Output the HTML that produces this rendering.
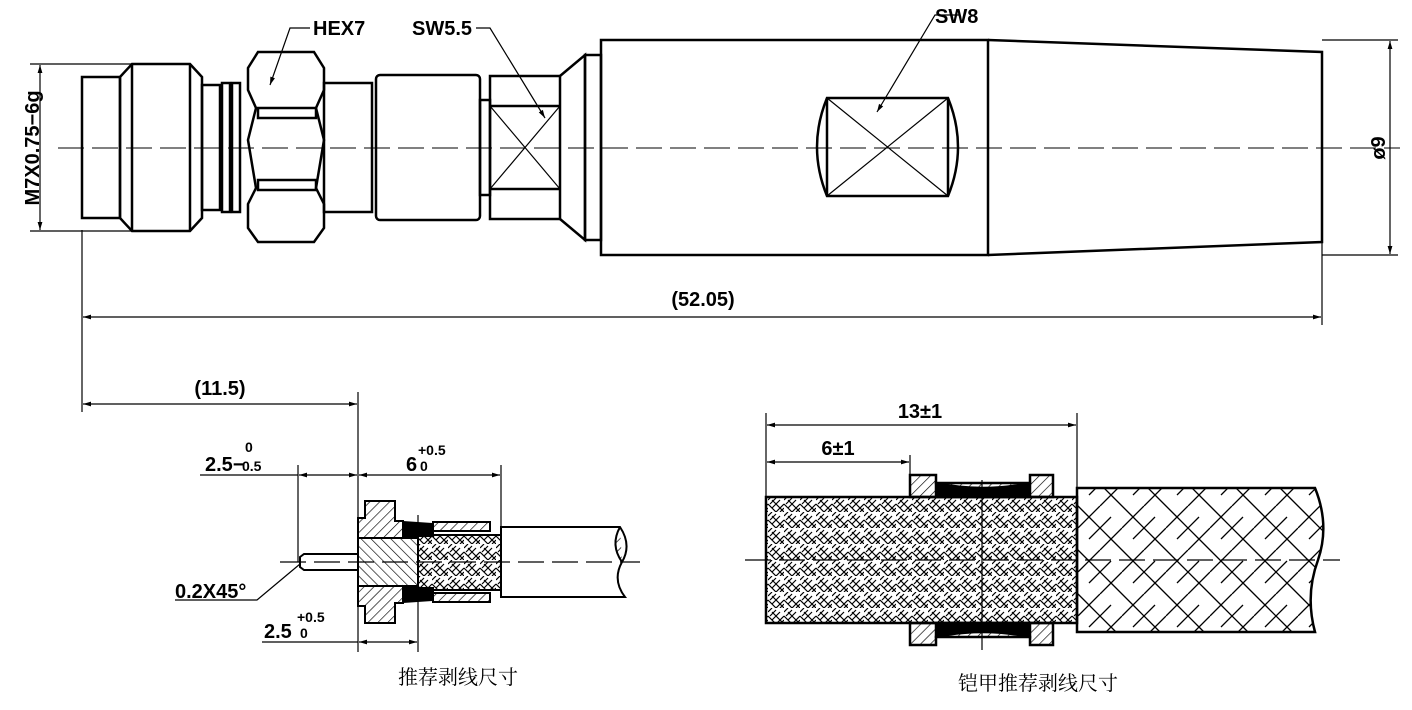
<!DOCTYPE html>
<html><head><meta charset="utf-8"><style>
html,body{margin:0;padding:0;background:#fff;}
svg{display:block}
text{font-family:"Liberation Sans","Noto Sans CJK SC",sans-serif;fill:#000}
.b{font-weight:bold}
</style></head><body>
<svg width="1412" height="710" viewBox="0 0 1412 710" xmlns="http://www.w3.org/2000/svg">
<defs>
<pattern id="h1" width="7" height="7" patternUnits="userSpaceOnUse" patternTransform="rotate(45)"><line x1="0" y1="0" x2="0" y2="7" stroke="#000" stroke-width="1.3"/></pattern>
<pattern id="h2" width="7" height="7" patternUnits="userSpaceOnUse" patternTransform="rotate(-45)"><line x1="0" y1="0" x2="0" y2="7" stroke="#000" stroke-width="1.3"/></pattern>
<pattern id="bs" width="16" height="16" patternUnits="userSpaceOnUse">
<path d="M0 4 L4 0 M2 8 L8 2 M4 12 L12 4 M8 16 L16 8 M12 16 L16 12 M8 8 L16 16 M0 8 L8 16 M4 4 L8 8" stroke="#000" stroke-width="1.2" fill="none"/></pattern>
<pattern id="bb" width="44" height="44" patternUnits="userSpaceOnUse">
<path d="M0 22 L22 0 M22 44 L44 22 M11 11 L33 33 M33 11 L44 0 M0 44 L11 33 M0 0 L11 11 M33 33 L44 44" stroke="#000" stroke-width="1.3" fill="none"/></pattern>
<marker id="a" viewBox="0 0 10 10" refX="10" refY="5" markerWidth="14" markerHeight="8" orient="auto-start-reverse" markerUnits="userSpaceOnUse"><path d="M0 2 L10 5 L0 8 Z" fill="#000"/></marker>
</defs>
<g stroke="#000" fill="none">
<line x1="58" y1="148" x2="1400" y2="148" stroke-width="1" stroke-dasharray="26,8"/>
<g stroke-width="2.5">
<rect x="82" y="77" width="38" height="141"/>
<path d="M120 77 L132 64 L190 64 L202 77 L202 218 L190 231 L132 231 L120 218 Z"/>
<line x1="132" y1="64" x2="132" y2="231"/><line x1="190" y1="64" x2="190" y2="231"/>
<rect x="202" y="85" width="18" height="125"/>
<rect x="222" y="83" width="8" height="129"/><rect x="232" y="83" width="8" height="129"/>
<path d="M258 52 L314 52 L324 68 L324 90 L316 108 L324 140 L316 188 L324 204 L324 228 L314 242 L258 242 L248 228 L248 204 L256 188 L248 140 L256 108 L248 90 L248 68 Z"/>
<rect x="258" y="108" width="58" height="10"/><rect x="258" y="180" width="58" height="10"/>
<rect x="324" y="83" width="48" height="129"/>
<rect x="376" y="75" width="104" height="145" rx="4"/>
<rect x="480" y="100" width="10" height="95"/>
<rect x="490" y="76" width="70" height="143"/>
<line x1="490" y1="106" x2="560" y2="106"/><line x1="490" y1="189" x2="560" y2="189"/>
<path d="M560 76 L585 55 L585 240 L560 219"/>
<rect x="585" y="55" width="16" height="185"/>
<rect x="601" y="40" width="387" height="215"/>
<path d="M988 40 L1322 52 L1322 242 L988 255"/>
<path d="M827 98 L948 98 Q968 147 948 196 L827 196 Q807 147 827 98 Z"/>
<line x1="827" y1="98" x2="827" y2="196"/><line x1="948" y1="98" x2="948" y2="196"/>
</g>
<g stroke-width="1.2">
<line x1="490" y1="106" x2="560" y2="189"/><line x1="560" y1="106" x2="490" y2="189"/>
<line x1="827" y1="98" x2="948" y2="196"/><line x1="948" y1="98" x2="827" y2="196"/>
<path d="M310 28 L290 28 L270 85" marker-end="url(#a)"/>
<path d="M476 28 L490 28 L545 118" marker-end="url(#a)"/>
<path d="M960 15 L935 15 L877 112" marker-end="url(#a)"/>
<line x1="30" y1="64" x2="132" y2="64"/><line x1="30" y1="231" x2="132" y2="231"/>
<line x1="40" y1="65" x2="40" y2="230" marker-start="url(#a)" marker-end="url(#a)"/>
<line x1="1322" y1="40" x2="1398" y2="40"/><line x1="1322" y1="255" x2="1398" y2="255"/>
<line x1="1390" y1="41" x2="1390" y2="254" marker-start="url(#a)" marker-end="url(#a)"/>
<line x1="82" y1="230" x2="82" y2="412"/><line x1="1322" y1="242" x2="1322" y2="325"/>
<line x1="83" y1="317" x2="1321" y2="317" marker-start="url(#a)" marker-end="url(#a)"/>
<line x1="358" y1="392" x2="358" y2="652"/>
<line x1="83" y1="404" x2="357" y2="404" marker-start="url(#a)" marker-end="url(#a)"/>
<line x1="200" y1="475" x2="298" y2="475"/>
<line x1="298" y1="465" x2="298" y2="562"/>
<line x1="299" y1="475" x2="357" y2="475" marker-start="url(#a)" marker-end="url(#a)"/>
<line x1="501" y1="465" x2="501" y2="530"/>
<line x1="359" y1="475" x2="500" y2="475" marker-start="url(#a)" marker-end="url(#a)"/>
<line x1="418" y1="515" x2="418" y2="652"/>
<line x1="262" y1="642" x2="358" y2="642"/>
<line x1="359" y1="642" x2="417" y2="642" marker-start="url(#a)" marker-end="url(#a)"/>
<path d="M300 564 L257 600 L175 600"/>
<line x1="280" y1="562" x2="640" y2="562" stroke-dasharray="26,8"/>
</g>
<g stroke-width="2">
<path d="M300 557 L304 554 L358 554 L358 570 L304 570 L300 567 Z"/>
<path d="M365 501 L395 501 L395 521 L403 521 L403 538 L358 538 L358 518 L365 518 Z" fill="url(#h1)"/>
<path d="M365 623 L395 623 L395 603 L403 603 L403 586 L358 586 L358 606 L365 606 Z" fill="url(#h1)"/>
<rect x="358" y="538" width="60" height="48" fill="url(#h2)"/>
<path d="M403 522 L433 524 L433 536 L418 536 L403 538 Z" fill="#000"/>
<path d="M403 602 L433 600 L433 588 L418 588 L403 586 Z" fill="#000"/>
<rect x="433" y="522" width="57" height="9" fill="url(#h1)"/>
<rect x="433" y="593" width="57" height="9" fill="url(#h1)"/>
<rect x="418" y="535" width="83" height="55" fill="url(#bs)"/>
<path d="M501 527 L620 527 Q632 545 622 562 Q612 580 625 597 L501 597 Z"/>
<path d="M620 527 Q610 545 622 562" fill="url(#h1)"/>
</g>
<g stroke-width="2.5">
<rect x="766" y="497" width="311" height="126" fill="url(#bs)"/>
<path d="M1077 488 L1315 488 Q1330 525 1318 560 Q1305 595 1315 632 L1077 632 Z" fill="url(#bb)"/>
<path d="M910 475 L936 475 L936 483 L1030 483 L1030 475 L1053 475 L1053 497 L910 497 Z" fill="url(#h1)"/>
<path d="M936 483 Q982 493 1030 483 L1030 497 L936 497 Z" fill="#000"/>
<path d="M910 645 L936 645 L936 637 L1030 637 L1030 645 L1053 645 L1053 623 L910 623 Z" fill="url(#h1)"/>
<path d="M936 637 Q982 627 1030 637 L1030 623 L936 623 Z" fill="#000"/>
</g>
<g stroke-width="1.2">
<line x1="745" y1="560" x2="1340" y2="560" stroke-dasharray="26,8"/>
<line x1="982" y1="480" x2="982" y2="650"/>
<line x1="766" y1="413" x2="766" y2="497"/><line x1="1077" y1="413" x2="1077" y2="488"/>
<line x1="910" y1="455" x2="910" y2="475"/>
<line x1="767" y1="425" x2="1076" y2="425" marker-start="url(#a)" marker-end="url(#a)"/>
<line x1="767" y1="462" x2="909" y2="462" marker-start="url(#a)" marker-end="url(#a)"/>
</g>
</g>
<g font-size="20" class="b">
<text x="313" y="35">HEX7</text>
<text x="412" y="35">SW5.5</text>
<text x="935" y="23">SW8</text>
<text x="32" y="148" text-anchor="middle" transform="rotate(-90 32 148)" dy="7">M7X0.75−6g</text>
<text x="1378" y="148" text-anchor="middle" transform="rotate(-90 1378 148)" dy="7">ø9</text>
<text x="703" y="306" text-anchor="middle">(52.05)</text>
<text x="220" y="395" text-anchor="middle">(11.5)</text>
<text x="205" y="471">2.5−</text>
<text x="245" y="452" font-size="14">0</text>
<text x="242" y="471" font-size="14">0.5</text>
<text x="406" y="471">6</text>
<text x="418" y="455" font-size="14">+0.5</text>
<text x="420" y="471" font-size="14">0</text>
<text x="175" y="598">0.2X45°</text>
<text x="264" y="638">2.5</text>
<text x="297" y="622" font-size="14">+0.5</text>
<text x="300" y="638" font-size="14">0</text>
<text x="920" y="418" text-anchor="middle">13±1</text>
<text x="838" y="455" text-anchor="middle">6±1</text>
</g>
<g font-size="20">
<text x="398" y="684" style="font-family:'Noto Serif CJK SC','Noto Sans CJK SC',sans-serif">推荐剥线尺寸</text>
<text x="958" y="690" style="font-family:'Noto Serif CJK SC','Noto Sans CJK SC',sans-serif">铠甲推荐剥线尺寸</text>
</g>
</svg>
</body></html>
